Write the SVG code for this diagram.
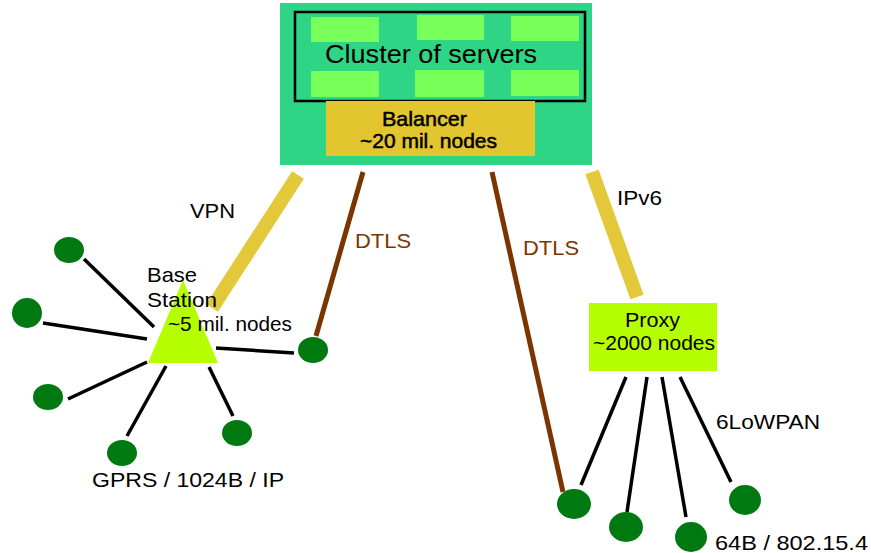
<svg xmlns="http://www.w3.org/2000/svg" width="871" height="553" viewBox="0 0 871 553">
<style>
text{font-family:"Liberation Sans",Arial,sans-serif;fill:#000;}
.lbl{font-size:21px;}
.brown{fill:#7A3500;}
.srv{fill:#77FF5A;}
.node{fill:#007A10;}
.spoke{stroke:#000;stroke-width:3.5;fill:none;}
.yel{stroke:#E3C83A;stroke-width:14;fill:none;}
.dtls{stroke:#7A3500;stroke-width:5;fill:none;}
</style>
<rect width="871" height="553" fill="#fff"/>
<g id="connectors">
<line class="yel" x1="298" y1="175" x2="212" y2="308"/>
<line class="dtls" x1="363" y1="172" x2="316" y2="336"/>
<line class="dtls" x1="492" y1="172" x2="563" y2="492"/>
<line class="yel" x1="592" y1="172" x2="637" y2="297"/>
<line class="spoke" x1="84" y1="259" x2="154" y2="327"/>
<line class="spoke" x1="43" y1="323" x2="147" y2="339"/>
<line class="spoke" x1="68" y1="399" x2="147" y2="362"/>
<line class="spoke" x1="127" y1="436" x2="166" y2="366"/>
<line class="spoke" x1="209" y1="367" x2="233" y2="416"/>
<line class="spoke" x1="216" y1="348" x2="294" y2="353"/>
<line class="spoke" x1="626" y1="377" x2="581" y2="485"/>
<line class="spoke" x1="647" y1="377" x2="627" y2="512"/>
<line class="spoke" x1="662" y1="377" x2="686" y2="517"/>
<line class="spoke" x1="680" y1="377" x2="731" y2="482"/>
<text class="lbl" x="190" y="218" textLength="45" lengthAdjust="spacingAndGlyphs">VPN</text>
<text class="lbl brown" x="355" y="248" textLength="56" lengthAdjust="spacingAndGlyphs">DTLS</text>
<text class="lbl brown" x="523" y="255" textLength="56" lengthAdjust="spacingAndGlyphs">DTLS</text>
<text class="lbl" x="617" y="205" textLength="45" lengthAdjust="spacingAndGlyphs">IPv6</text>
<text class="lbl" x="716" y="429" textLength="104" lengthAdjust="spacingAndGlyphs">6LoWPAN</text>
</g>
<g id="cluster">
<rect x="280" y="3" width="312" height="162" fill="#2ED585"/>
<rect x="295" y="12" width="290" height="89" fill="none" stroke="#000" stroke-width="2.5"/>
<rect class="srv" x="311" y="17" width="68" height="25"/>
<rect class="srv" x="417" y="15" width="67" height="25"/>
<rect class="srv" x="511" y="16" width="68" height="25"/>
<rect class="srv" x="311" y="71" width="68" height="26"/>
<rect class="srv" x="415" y="70" width="69" height="27"/>
<rect class="srv" x="511" y="70" width="68" height="26"/>
<text x="325" y="63" font-size="25" textLength="212" lengthAdjust="spacingAndGlyphs">Cluster of servers</text>
</g>
<g id="balancer">
<rect x="326" y="101" width="209" height="55" fill="#E3C530"/>
<text x="382" y="126" font-size="21" textLength="85" lengthAdjust="spacingAndGlyphs" stroke="#000" stroke-width="0.5">Balancer</text>
<text x="360" y="148" font-size="20" textLength="137" lengthAdjust="spacingAndGlyphs" stroke="#000" stroke-width="0.5">~20 mil. nodes</text>
</g>
<g id="base-station">
<polygon points="183,280 148,363 218,363" fill="#B5FF00"/>
<text class="lbl" x="147" y="282" textLength="50" lengthAdjust="spacingAndGlyphs">Base</text>
<text class="lbl" x="147" y="307" textLength="70" lengthAdjust="spacingAndGlyphs">Station</text>
<text class="lbl" x="168" y="331" textLength="124" lengthAdjust="spacingAndGlyphs">~5 mil. nodes</text>
</g>
<g id="bs-nodes">
<ellipse class="node" cx="69" cy="250" rx="15" ry="13"/>
<ellipse class="node" cx="27" cy="313" rx="15" ry="15"/>
<ellipse class="node" cx="48" cy="397" rx="15" ry="13"/>
<ellipse class="node" cx="122" cy="453" rx="15" ry="13"/>
<ellipse class="node" cx="237" cy="433" rx="15" ry="13"/>
<ellipse class="node" cx="313" cy="350" rx="15" ry="13"/>
<text class="lbl" x="92" y="487" textLength="192" lengthAdjust="spacingAndGlyphs">GPRS / 1024B / IP</text>
</g>
<g id="proxy">
<rect x="589" y="303" width="128" height="68" fill="#B5FF00"/>
<text x="625" y="327" font-size="21" textLength="55" lengthAdjust="spacingAndGlyphs">Proxy</text>
<text x="593" y="350" font-size="21" textLength="122" lengthAdjust="spacingAndGlyphs">~2000 nodes</text>
</g>
<g id="proxy-nodes">
<ellipse class="node" cx="574" cy="504" rx="17" ry="15"/>
<ellipse class="node" cx="626" cy="527" rx="17" ry="15"/>
<ellipse class="node" cx="691" cy="537" rx="16" ry="15"/>
<ellipse class="node" cx="745" cy="500" rx="16" ry="15"/>
<text class="lbl" x="715" y="550" textLength="153" lengthAdjust="spacingAndGlyphs">64B / 802.15.4</text>
</g>
</svg>
